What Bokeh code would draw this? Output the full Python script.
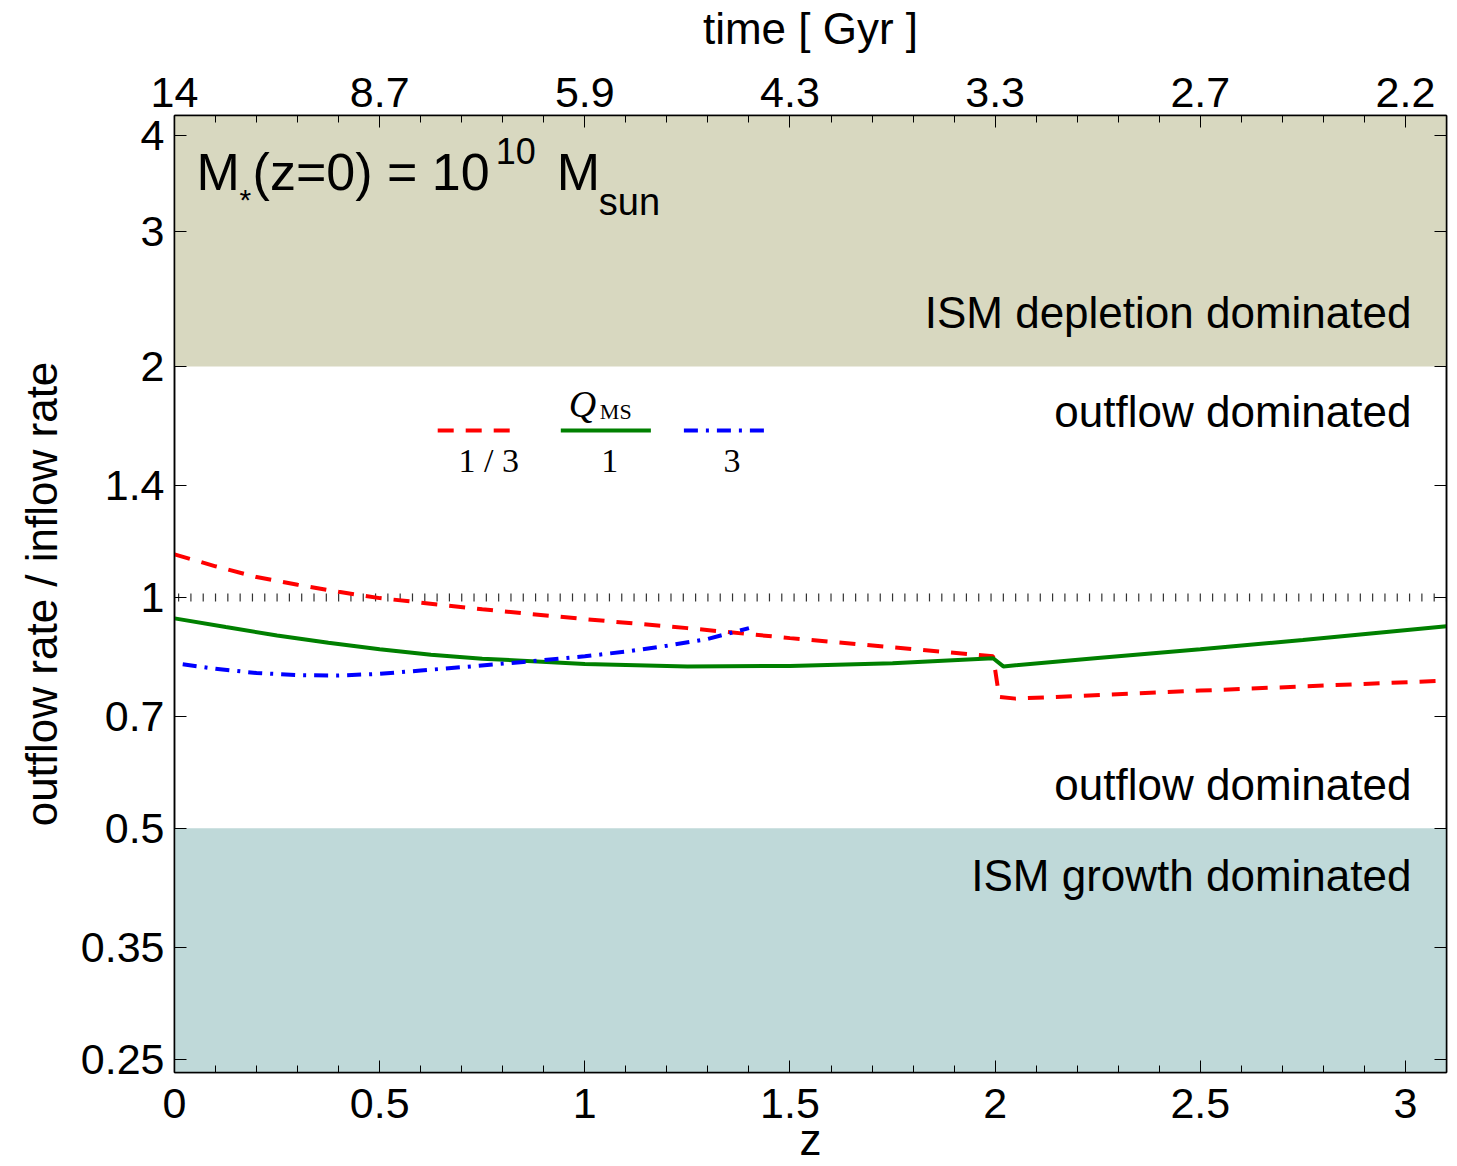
import numpy as np
from bokeh.plotting import figure
from bokeh.models import (FixedTicker, LinearAxis, LogAxis, Label, BoxAnnotation,
                          CustomJSTickFormatter)
from bokeh.embed import file_html
from bokeh.resources import INLINE

# ---------------- data ----------------
z_q13 = [0.0, 0.1, 0.2, 0.3, 0.4, 0.5, 0.75, 1.0, 1.25, 1.5, 1.75, 1.995, 2.01, 2.05, 2.5, 3.1]
r_q13 = [1.138, 1.098, 1.063, 1.039, 1.017, 0.998, 0.965, 0.937, 0.912, 0.885, 0.861, 0.838,
         0.742, 0.738, 0.756, 0.779]

z_q1 = [0.0, 0.125, 0.25, 0.375, 0.5, 0.625, 0.75, 1.0, 1.25, 1.5, 1.75, 1.995, 2.02,
        2.25, 2.5, 2.75, 3.1]
r_q1 = [0.939, 0.915, 0.892, 0.873, 0.856, 0.842, 0.832, 0.819, 0.813, 0.814, 0.821, 0.833,
        0.813, 0.834, 0.856, 0.880, 0.917]

z_q3 = [0.02, 0.1, 0.2, 0.3, 0.4, 0.5, 0.6, 0.7, 0.85, 1.0, 1.1, 1.2, 1.3, 1.4]
r_q3 = [0.818, 0.807, 0.797, 0.792, 0.791, 0.795, 0.803, 0.811, 0.824, 0.838, 0.850, 0.865,
        0.883, 0.912]

legend_labels = ["1 / 3", "1", "3"]
y_ticks = [0.25, 0.35, 0.5, 0.7, 1, 1.4, 2, 3, 4]
x_ticks = [0, 0.5, 1, 1.5, 2, 2.5, 3]
time_labels = ["14", "8.7", "5.9", "4.3", "3.3", "2.7", "2.2"]
depletion_threshold = 2.0
growth_threshold = 0.5
unity = 1.0

FONT = "Liberation Sans"
SERIF = "Liberation Serif"

# pixel -> data helpers (reference frame calibration, for text placement)
def X(px):
    return (px - 174) / 410.0

def Y(py):
    return 10 ** ((596 - py) / 767.0)

p = figure(frame_width=1272, frame_height=957, x_range=(0, 3.1), y_range=(0.2402, 4.25),
           y_axis_type="log", output_backend="svg", toolbar_location=None,
           min_border_left=174, min_border_top=114, min_border_right=5, min_border_bottom=94)
p.xgrid.visible = False
p.ygrid.visible = False
p.outline_line_color = "black"
p.outline_line_width = 1.5
p.background_fill_color = "white"

# shaded regimes
p.add_layout(BoxAnnotation(bottom=depletion_threshold, fill_color="#D8D8C0", fill_alpha=1,
                           line_color=None, level="underlay"))
p.add_layout(BoxAnnotation(top=growth_threshold, fill_color="#BFD9D9", fill_alpha=1,
                           line_color=None, level="underlay"))

# unity reference (vertical tick dots)
xs = np.arange(0.01, 3.1, 0.03)
p.scatter(xs, np.full(len(xs), unity), marker="dash", angle=np.pi / 2, size=8,
          line_color="#333333", line_width=1.2)

# curves
p.line(z_q13, r_q13, line_color="#FF0000", line_width=4, line_dash="16 12")
p.line(z_q1, r_q1, line_color="#008000", line_width=4)
p.line(z_q3, r_q3, line_color="#0000FF", line_width=4, line_dash="14 8 3 8")

# ---------------- axes ----------------
tick_font = "43px"
lab_font = "44px"

def style_axis(ax):
    ax.axis_line_color = "black"
    ax.axis_line_width = 1.5
    ax.major_tick_in = 12
    ax.major_tick_out = 0
    ax.minor_tick_in = 7
    ax.minor_tick_out = 0
    ax.major_tick_line_color = "black"
    ax.minor_tick_line_color = "black"
    ax.major_label_text_font = FONT
    ax.major_label_text_font_size = tick_font
    ax.major_label_text_color = "black"
    ax.axis_label_text_font = FONT
    ax.axis_label_text_font_size = lab_font
    ax.axis_label_text_font_style = "normal"
    ax.axis_label_text_color = "black"

minor_x = list(np.round(np.arange(0, 3.11, 0.1), 2))
fmt = CustomJSTickFormatter(code="return tick.toString();")

xa = p.xaxis[0]
xa.ticker = FixedTicker(ticks=x_ticks, minor_ticks=minor_x)
xa.formatter = fmt
xa.axis_label = "z"
style_axis(xa)
xa.major_label_standoff = 16
xa.axis_label_standoff = -6

ya = p.yaxis[0]
ya.ticker = FixedTicker(ticks=y_ticks)
ya.formatter = fmt
ya.axis_label = "outflow rate / inflow rate"
style_axis(ya)
ya.major_label_standoff = 10
ya.axis_label_standoff = 12

top = LinearAxis(ticker=FixedTicker(ticks=x_ticks, minor_ticks=minor_x),
                 major_label_overrides={t: s for t, s in zip(x_ticks, time_labels)},
                 axis_label="time [ Gyr ]")
style_axis(top)
top.major_label_standoff = 9
top.axis_label_standoff = 22
p.add_layout(top, "above")

right = LogAxis(ticker=FixedTicker(ticks=y_ticks),
                formatter=CustomJSTickFormatter(code="return '';"))
style_axis(right)
right.major_label_standoff = 0
p.add_layout(right, "right")

# ---------------- annotations ----------------
def lab(px, py, text, size, font=FONT, align="left", style="normal"):
    s = float(size.replace("px", ""))
    p.add_layout(Label(x=X(px), y=Y(py - 0.37 * s), text=text, text_font=font,
                       text_font_size=size, text_align=align, text_baseline="alphabetic",
                       text_color="black", text_font_style=style))

lab(196, 190, "M", "52px")
lab(239, 209, "*", "30px")
lab(252, 190, "(z=0) = 10", "52px")
lab(495, 163, "10", "36px")
lab(556, 190, "M", "52px")
lab(598, 215, "sun", "38px")

lab(1410, 327, "ISM depletion dominated", "44px", align="right")
lab(1410, 426, "outflow dominated", "44px", align="right")
lab(1410, 799, "outflow dominated", "44px", align="right")
lab(1410, 890, "ISM growth dominated", "44px", align="right")

# legend
leg_y = Y(429)
p.line([X(437), X(520)], [leg_y, leg_y], line_color="#FF0000", line_width=4, line_dash="16 12")
p.line([X(560), X(650)], [leg_y, leg_y], line_color="#008000", line_width=4)
p.line([X(683), X(765)], [leg_y, leg_y], line_color="#0000FF", line_width=4, line_dash="14 8 3 8")
lab(568, 417, "Q", "38px", font=SERIF, style="italic")
lab(599, 418, "MS", "22px", font=SERIF)
for cx, t in zip([488, 609, 731], legend_labels):
    lab(cx, 472, t, "34px", font=SERIF, align="center")

open("out.html", "w").write(file_html(p, INLINE))
